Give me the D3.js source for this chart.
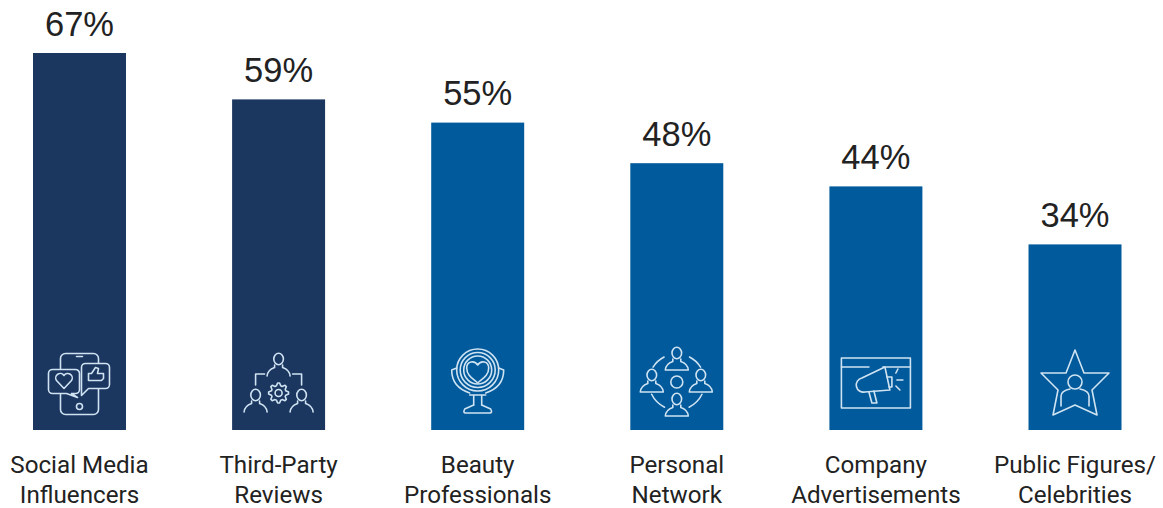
<!DOCTYPE html>
<html>
<head>
<meta charset="utf-8">
<script src="https://cdn.jsdelivr.net/npm/d3@7/dist/d3.min.js"></script>
<style>
html,body{margin:0;padding:0;background:#fff}
svg{display:block}
</style>
</head>
<body>
<script>
const categories = [
  ["Social Media","Influencers"],
  ["Third-Party","Reviews"],
  ["Beauty","Professionals"],
  ["Personal","Network"],
  ["Company","Advertisements"],
  ["Public Figures/","Celebrities"]
];
const values = [67,59,55,48,44,34];
const barColors = ["#1b365f","#1b365f","#005a9b","#005a9b","#005a9b","#005a9b"];
const iconNames = ["phone","team","mirror","network","ad","star"];

const W = 1163, H = 508;
const svg = d3.select("body").append("svg").attr("width",W).attr("height",H);

const x = d3.scaleBand().domain(d3.range(values.length)).range([33,1121.5]).paddingInner(0.533).paddingOuter(0);
const y = d3.scaleLinear().domain([2,67]).range([430,53]);

// bars
svg.append("g").selectAll("rect").data(values).join("rect")
  .attr("x",(d,i)=>x(i)).attr("y",d=>y(d))
  .attr("width",x.bandwidth()).attr("height",d=>y.range()[0]-y(d))
  .attr("fill",(d,i)=>barColors[i]);

// value labels
svg.append("g").selectAll("text").data(values).join("text")
  .attr("x",(d,i)=>x(i)+x.bandwidth()/2).attr("y",d=>y(d)-17.5)
  .attr("text-anchor","middle")
  .attr("font-family","'Liberation Sans',Arial,sans-serif")
  .attr("font-size",34.5).attr("fill","#222")
  .text(d=>d+"%");

// category labels
const cat = svg.append("g").selectAll("text").data(categories).join("text")
  .attr("text-anchor","middle")
  .attr("font-family","Roboto,sans-serif")
  .attr("font-size",24.2).attr("fill","#222");
cat.selectAll("tspan").data((d,i)=>d.map(t=>({t,i}))).join("tspan")
  .attr("x",d=>x(d.i)+x.bandwidth()/2)
  .attr("y",(d,j)=>473+j*29.5)
  .text(d=>d.t);

// line-art pictograms, each in a local frame centred on its bar
const person = (g,cx,cy,closed)=>{
  const p = g.append("g").attr("transform",`translate(${cx},${cy})`);
  p.append("ellipse").attr("cy",-6).attr("rx",4.8).attr("ry",5.8);
  p.append("path").attr("d","M-4,0 V2.5 Q-11,5 -11.5,11 M4,0 V2.5 Q11,5 11.5,11"+(closed?" M-11.5,11 H11.5":""));
};
// open circular stroke segment between two angles (radians, clockwise from north)
const ring = (g,r,a0,a1)=>g.append("path")
  .attr("d",d3.arc().innerRadius(r).outerRadius(r).startAngle(a0).endAngle(a1)());
const gearOutline = (teeth,r0,r1)=>{
  const pts = [];
  for(let k=0;k<teeth*4;k++){
    const a = (k-0.5)/(teeth*4)*2*Math.PI;
    pts.push([a,(k%4<2)?r1:r0]);
  }
  return d3.lineRadial().curve(d3.curveLinearClosed)(pts);
};
const icons = {
  phone(g){
    const bg = barColors[0];
    g.append("rect").attr("x",-19).attr("y",-30).attr("width",38).attr("height",61).attr("rx",5);
    g.append("path").attr("d","M-3,-27 H3");
    g.append("circle").attr("cy",23).attr("r",3);
    g.append("path").attr("fill",bg).attr("d","M-27,-14 H-4 a4,4 0 0 1 4,4 V6 a4,4 0 0 1 -4,4 H-8 L-2,14 L-13,10 H-27 a4,4 0 0 1 -4,-4 V-10 a4,4 0 0 1 4,-4 Z");
    g.append("path").attr("d","M-15.5,5 L-23,-3 a4.2,4.2 0 0 1 7.5,-5 a4.2,4.2 0 0 1 7.5,5 Z");
    g.append("path").attr("fill",bg).attr("d","M6,-20 H26 a4,4 0 0 1 4,4 V1 a4,4 0 0 1 -4,4 H9 L2,12 V-16 a4,4 0 0 1 4,-4 Z");
    g.append("path").attr("d","M9,-3 V-10 H12 L16,-16 L19,-15 L18,-10 H24 V-5 L22,-3 Z");
  },
  team(g){
    person(g,0,-20);
    g.append("path").attr("d","M-23,0 V-11 H-14 M23,0 V-11 H14");
    person(g,-23,16);
    person(g,23,16);
    const gear = g.append("g").attr("transform","translate(0,8)");
    gear.append("path").attr("d",gearOutline(8,7.5,10));
    gear.append("circle").attr("r",3.5);
  },
  mirror(g){
    g.append("circle").attr("cy",-11).attr("r",21);
    g.append("circle").attr("cy",-11).attr("r",17.5);
    g.append("circle").attr("cy",-11).attr("r",14);
    g.append("path").attr("d","M0,2 C-4,-2 -11,-5 -11,-13 C-11,-20 -3,-21 0,-16 C3,-21 11,-20 11,-13 C11,-5 4,-2 0,2 Z");
    g.append("path").attr("d","M-21,-13 L-26,-11 C-26,0 -20,8 -8,12 M21,-13 L26,-11 C26,0 20,8 8,12");
    g.append("path").attr("d","M-4,14 V24 M4,14 V24 M-8,14 H8");
    g.append("path").attr("d","M-4,24 L-13,28 Q-15,32 -12,32 H12 Q15,32 13,28 L4,24");
  },
  network(g){
    person(g,0,-23,true);
    person(g,-25,-1,true);
    person(g,24,-1,true);
    person(g,0,23,true);
    g.append("circle").attr("r",6);
    const rad = Math.PI/180;
    ring(g,28,-58*rad,-27*rad);
    ring(g,28,27*rad,58*rad);
    ring(g,28,116*rad,154*rad);
    ring(g,28,206*rad,244*rad);
  },
  ad(g){
    g.append("rect").attr("x",-34.5).attr("y",-25).attr("width",69).attr("height",50);
    g.append("path").attr("d","M-34.5,-16 H-7 M7,-16 H34.5");
    g.append("path").attr("d","M-14,-5 L9,-16 L14,7 L-11,9 a7,7 0 0 1 -3,-14 Z");
    g.append("path").attr("d","M11,-6 L16,-6 L16,4 L13,4");
    g.append("path").attr("d","M-7,9 L-4,20 H1 L-2,8");
    g.append("path").attr("d","M20,-10 L22,-14 M21,-3 L27,-3 M20,3 L24,7");
  },
  star(g){
    g.append("path").attr("d","M0,-31 L9,-8 L34,-8 L17,9 L22,34 L0,24 L-22,34 L-17,9 L-34,-8 L-9,-8 Z");
    g.append("circle").attr("cy",1).attr("r",7);
    g.append("path").attr("d","M-5,8 Q-14,10 -14,15 V25 M5,8 Q14,10 14,15 V25");
  }
};

const iconCy = [383.5,385,381,382,383,381];
svg.append("g").selectAll("g").data(iconNames).join("g")
  .attr("transform",(d,i)=>`translate(${x(i)+x.bandwidth()/2},${iconCy[i]})`)
  .attr("fill","none").attr("stroke","#cfe3f2").attr("stroke-width",1.6)
  .attr("stroke-linejoin","round").attr("stroke-linecap","round")
  .each(function(d){ icons[d](d3.select(this)); });
</script>
</body>
</html>
